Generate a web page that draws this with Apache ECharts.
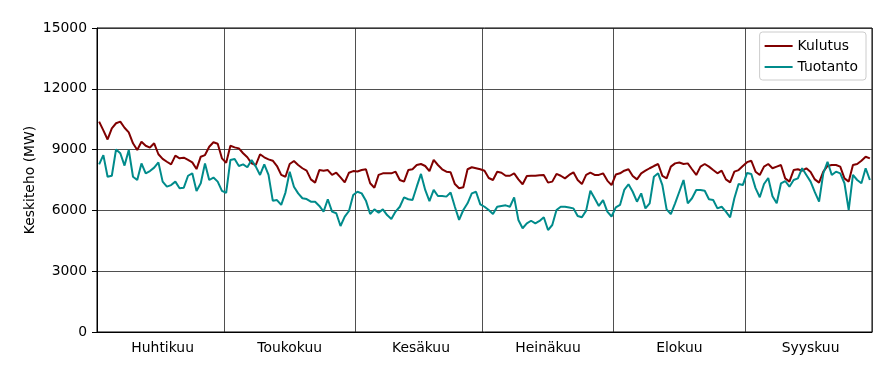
<!DOCTYPE html>
<html>
<head>
<meta charset="utf-8">
<script src="https://cdn.jsdelivr.net/npm/echarts@6/dist/echarts.min.js"></script>
<style>
  html, body { margin: 0; padding: 0; background: #fff; }
  #chart { width: 884px; height: 376px; }
</style>
</head>
<body>
<div id="chart"></div>
<script>
// months shown on the x axis (daily values, 1.4. - 30.9.)
const monthNames = ['Huhtikuu', 'Toukokuu', 'Kesäkuu', 'Heinäkuu', 'Elokuu', 'Syyskuu'];
const monthDays = [30, 31, 30, 31, 31, 30];

// daily mean power, MW
const kulutus = [
    10380, 9950, 9500, 10050, 10300, 10380, 10080, 9850, 9310, 8980,
    9390, 9190, 9100, 9310, 8770, 8540, 8400, 8270, 8700, 8570,
    8600, 8490, 8370, 8040, 8650, 8730, 9140, 9360, 9290, 8570,
    8350, 9190, 9110, 9060, 8820, 8620, 8320, 8240, 8770, 8620,
    8520, 8450, 8190, 7750, 7660, 8290, 8440, 8240, 8080, 7960,
    7530, 7370, 7990, 7960, 7990, 7750, 7860, 7630, 7380, 7860,
    7940, 7920, 7990, 8030, 7340, 7120, 7750, 7830, 7830, 7830,
    7910, 7500, 7420, 7990, 8030, 8240, 8290, 8190, 7940, 8490,
    8240, 8030, 7910, 7880, 7300, 7090, 7140, 8030, 8130, 8080,
    8030, 7960, 7600, 7500, 7910, 7860, 7710, 7710, 7830, 7530,
    7290, 7700, 7710, 7710, 7730, 7750, 7370, 7420, 7800, 7710,
    7580, 7750, 7880, 7500, 7300, 7750, 7860, 7750, 7750, 7830,
    7470, 7250, 7770, 7830, 7960, 8030, 7700, 7530, 7830, 7960,
    8080, 8190, 8290, 7700, 7580, 8160, 8320, 8360, 8290, 8320,
    8030, 7750, 8160, 8290, 8160, 7990, 7830, 7960, 7530, 7380,
    7910, 7990, 8190, 8380, 8450, 7910, 7750, 8160, 8290, 8080,
    8160, 8240, 7580, 7420, 7990, 8030, 7960, 8075, 7900, 7530,
    7370, 7910, 8190, 8240, 8240, 8160, 7580, 7420, 8240, 8290,
    8450, 8650, 8570
];
const tuotanto = [
    8270, 8730, 7660, 7710, 9010, 8820, 8210, 8980, 7660, 7500,
    8320, 7830, 7940, 8110, 8370, 7420, 7170, 7250, 7420, 7090,
    7120, 7710, 7830, 6960, 7340, 8320, 7500, 7620, 7420, 6960,
    6860, 8490, 8540, 8190, 8270, 8130, 8490, 8160, 7750, 8270,
    7750, 6480, 6510, 6270, 6880, 7910, 7170, 6840, 6600, 6560,
    6430, 6430, 6220, 5940, 6550, 5940, 5860, 5230, 5690, 5970,
    6760, 6920, 6840, 6480, 5820, 6050, 5890, 6050, 5770, 5580,
    5940, 6180, 6640, 6550, 6510, 7170, 7800, 7010, 6460, 7010,
    6710, 6710, 6680, 6880, 6180, 5530, 6020, 6350, 6840, 6920,
    6300, 6180, 6020, 5820, 6180, 6220, 6250, 6180, 6640, 5530,
    5120, 5360, 5490, 5360, 5480, 5660, 5030, 5280, 6020, 6180,
    6180, 6140, 6100, 5720, 5660, 5990, 6970, 6600, 6220, 6510,
    5940, 5700, 6150, 6270, 7010, 7290, 6920, 6430, 6840, 6100,
    6350, 7660, 7830, 7250, 6050, 5820, 6350, 6920, 7500, 6350,
    6600, 7010, 7010, 6970, 6550, 6510, 6100, 6180, 5940, 5660,
    6600, 7300, 7250, 7850, 7800, 7100, 6650, 7300, 7600, 6700,
    6350, 7330, 7450, 7170, 7500, 7580, 8080, 7750, 7420, 6900,
    6430, 7830, 8400, 7750, 7910, 7830, 7340, 6020, 7750, 7500,
    7340, 8080, 7500
];

const yMin = 0;
const yMax = 15000;
const yStep = 3000;

// one category per day, remember where each month starts and its middle
const days = [];
const monthStart = {};
const monthMid = {};
monthDays.forEach((n, m) => {
    monthStart[days.length] = true;
    monthMid[days.length + 15] = monthNames[m];
    for (let d = 1; d <= n; d++) {
        days.push((m + 4) + '-' + d);
    }
});

const font = 'DejaVu Sans';
const chart = echarts.init(document.getElementById('chart'));

chart.setOption({
    animation: false,
    grid: {
        left: 97,
        right: 12,
        top: 28,
        bottom: 44,
        show: true,
        borderColor: '#000',
        borderWidth: 1
    },
    legend: {
        orient: 'vertical',
        right: 18,
        top: 32,
        padding: [7, 8, 6, 5],
        itemGap: 7,
        itemWidth: 28,
        itemHeight: 2,
        icon: 'rect',
        backgroundColor: 'rgba(255,255,255,0.8)',
        borderColor: '#ccc',
        borderWidth: 1,
        borderRadius: 3,
        textStyle: { fontFamily: font, fontSize: 13.9, color: '#000' },
        data: ['Kulutus', 'Tuotanto']
    },
    xAxis: {
        type: 'category',
        data: days,
        boundaryGap: true,
        axisLine: { lineStyle: { color: '#000', width: 1 } },
        axisTick: { show: false },
        axisLabel: {
            interval: (i) => monthMid[i] !== undefined,
            formatter: (v, i) => monthMid[i] || '',
            margin: 9,
            fontFamily: font,
            fontSize: 13.9,
            color: '#000'
        },
        splitLine: {
            show: true,
            interval: (i) => monthStart[i] === true,
            lineStyle: { color: '#222', width: 0.8 }
        }
    },
    yAxis: {
        type: 'value',
        min: yMin,
        max: yMax,
        interval: yStep,
        name: 'Keskiteho (MW)',
        nameLocation: 'middle',
        nameGap: 60,
        nameMoveOverlap: false,
        nameTextStyle: { fontFamily: font, fontSize: 13.9, color: '#000' },
        axisLine: { show: true, lineStyle: { color: '#000', width: 1 } },
        axisTick: { show: true, length: 5, lineStyle: { color: '#000' } },
        axisLabel: {
            margin: 10,
            formatter: (v) => String(v),
            fontFamily: font,
            fontSize: 13.9,
            color: '#000'
        },
        splitLine: { show: true, lineStyle: { color: '#222', width: 0.8 } }
    },
    series: [
        {
            name: 'Kulutus',
            type: 'line',
            data: kulutus,
            symbol: 'none',
            color: '#800000',
            lineStyle: { width: 2 }
        },
        {
            name: 'Tuotanto',
            type: 'line',
            data: tuotanto,
            symbol: 'none',
            color: '#008b8b',
            lineStyle: { width: 2 }
        }
    ]
});
</script>
</body>
</html>
